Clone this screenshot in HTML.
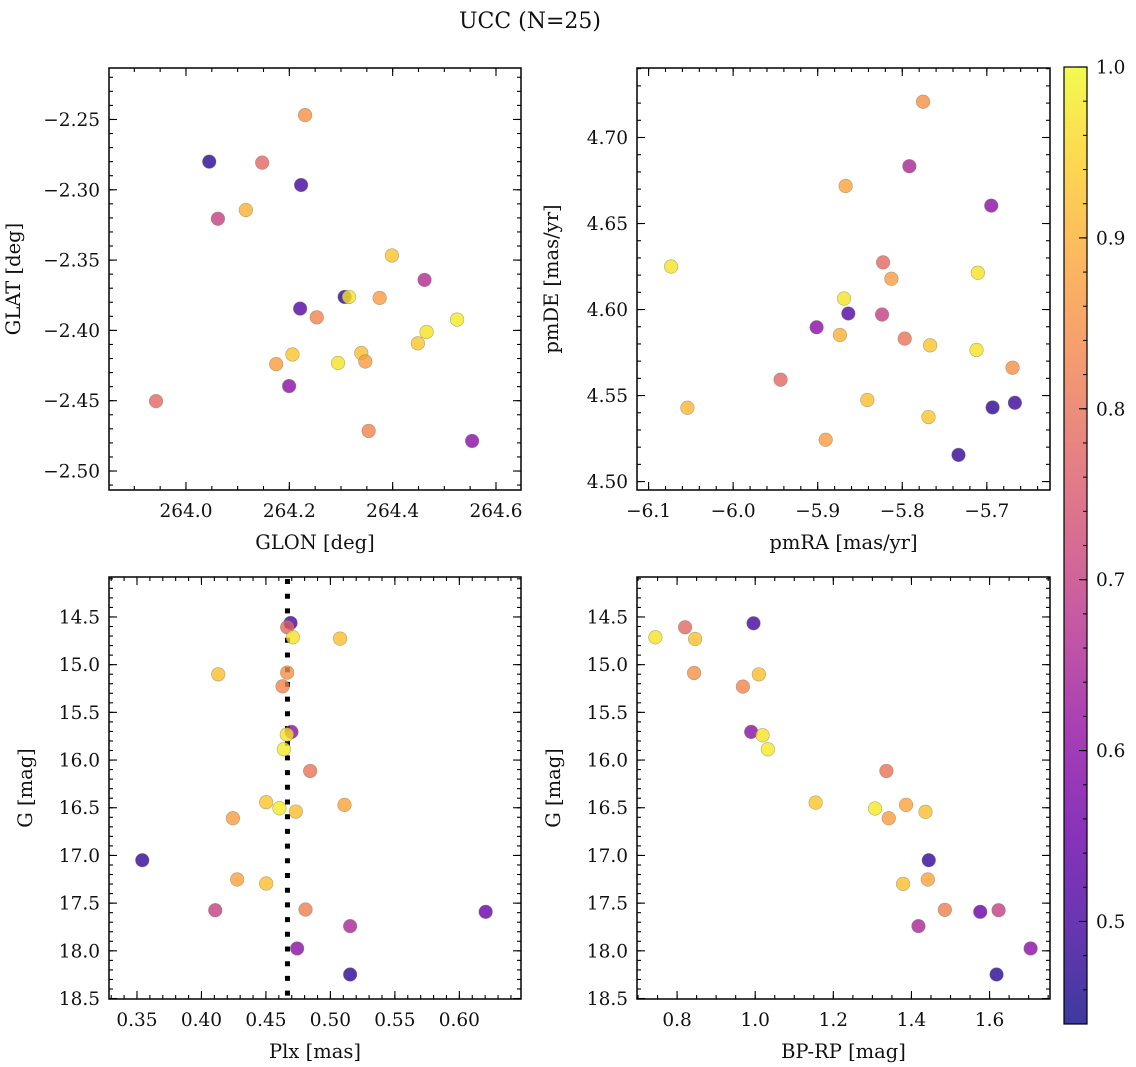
<!DOCTYPE html>
<html><head><meta charset="utf-8"><title>UCC (N=25)</title>
<style>
html,body{margin:0;padding:0;background:#fff;}
svg{display:block;font-family:"DejaVu Serif","Liberation Serif",serif;}
</style></head>
<body>
<svg id="fig" width="1136" height="1067" viewBox="0 0 1136 1067" xmlns="http://www.w3.org/2000/svg">
<rect width="1136" height="1067" fill="#fff"/>
<text x="530" y="28" font-size="22" text-anchor="middle" fill="#111">UCC (N=25)</text>
<defs>
<linearGradient id="plasmaGrad" x1="0" y1="1" x2="0" y2="0">
<stop offset="0" stop-color="#0d0887"/><stop offset="0.1" stop-color="#41049d"/><stop offset="0.2" stop-color="#6a00a8"/><stop offset="0.3" stop-color="#8f0da4"/><stop offset="0.4" stop-color="#b12a90"/><stop offset="0.5" stop-color="#cc4778"/><stop offset="0.6" stop-color="#e16462"/><stop offset="0.7" stop-color="#f2844b"/><stop offset="0.8" stop-color="#fca636"/><stop offset="0.9" stop-color="#fcce25"/><stop offset="1" stop-color="#f0f921"/>
</linearGradient>
</defs>
</svg>
<script>
// ---- Panel 1: GLON vs GLAT ----
const glon = [264.2305,264.045,264.1475,264.2228,264.1159,264.0618,264.3986,264.4617,264.3071,264.3155,264.3748,264.2209,264.2531,264.5248,264.4656,264.4488,264.2061,264.1745,264.2943,264.3393,264.3471,264.1996,263.942,264.3535,264.5538];
const glat = [-2.2469,-2.280,-2.2807,-2.2966,-2.3144,-2.3206,-2.3467,-2.3641,-2.3762,-2.3762,-2.3769,-2.3845,-2.3907,-2.3923,-2.4011,-2.4092,-2.4171,-2.4240,-2.4232,-2.4161,-2.4221,-2.4396,-2.4503,-2.4715,-2.4786];
const probPos = [0.85,0.47,0.78,0.5,0.9,0.7,0.93,0.66,0.47,0.97,0.87,0.52,0.83,0.98,0.97,0.93,0.93,0.87,0.97,0.92,0.87,0.6,0.78,0.83,0.6];
// ---- Panel 2: pmRA vs pmDE ----
const pmra = [-5.7754,-5.7916,-5.8670,-5.6948,-6.0734,-5.8227,-5.8129,-5.7106,-5.8689,-5.8638,-5.8239,-5.9013,-5.8737,-5.7971,-5.7671,-5.7122,-5.6696,-5.9439,-6.0541,-5.8413,-5.6932,-5.6668,-5.7690,-5.8906,-5.7335];
const pmde = [4.7208,4.6833,4.6718,4.6604,4.6250,4.6274,4.6179,4.6214,4.6064,4.5977,4.5971,4.5897,4.5852,4.5831,4.5792,4.5765,4.5662,4.5592,4.5429,4.5474,4.5431,4.5458,4.5375,4.5243,4.5155];
const probPm = [0.85,0.65,0.88,0.6,0.97,0.78,0.87,0.97,0.97,0.52,0.7,0.6,0.9,0.8,0.93,0.97,0.85,0.78,0.91,0.92,0.47,0.49,0.93,0.87,0.48];
// ---- Panel 3: Plx vs G ----
const plx = [0.4691,0.4665,0.4709,0.5075,0.4130,0.4665,0.4629,0.4698,0.4662,0.4639,0.4843,0.4502,0.4605,0.4732,0.5109,0.4244,0.3541,0.4277,0.4502,0.4107,0.4807,0.6204,0.5153,0.4742,0.5153];
const gmagPlx = [14.563,14.608,14.713,14.727,15.101,15.083,15.227,15.705,15.733,15.887,16.114,16.442,16.505,16.540,16.470,16.610,17.050,17.252,17.294,17.574,17.567,17.591,17.741,17.975,18.248];
const probPlx = [0.5,0.78,0.97,0.92,0.92,0.85,0.83,0.6,0.97,0.98,0.8,0.93,0.98,0.92,0.88,0.87,0.48,0.88,0.92,0.7,0.82,0.55,0.65,0.6,0.47];
const plxMedian = [0.4667];
// ---- Panel 4: BP-RP vs G ----
const bprp = [0.7444,0.8205,0.8462,0.9957,0.8436,1.0094,0.9684,0.9897,1.0188,1.0325,1.3359,1.1547,1.3068,1.3419,1.3863,1.4359,1.4444,1.3786,1.4419,1.4855,1.5761,1.6231,1.4179,1.7051,1.6179];
const gmagCmd = [14.713,14.608,14.731,14.566,15.087,15.101,15.230,15.705,15.740,15.887,16.114,16.446,16.508,16.610,16.470,16.543,17.050,17.298,17.252,17.570,17.591,17.574,17.741,17.975,18.248];
const probCmd = [0.97,0.78,0.92,0.5,0.85,0.92,0.83,0.6,0.97,0.98,0.8,0.93,0.98,0.87,0.88,0.92,0.48,0.92,0.88,0.82,0.55,0.7,0.65,0.6,0.47];
// ---- tick labels ----
const ticksGlon = ["264.0","264.2","264.4","264.6"];
const ticksGlat = ["-2.25","-2.30","-2.35","-2.40","-2.45","-2.50"];
const ticksPmra = ["-6.1","-6.0","-5.9","-5.8","-5.7"];
const ticksPmde = ["4.50","4.55","4.60","4.65","4.70"];
const ticksPlx = ["0.35","0.40","0.45","0.50","0.55","0.60"];
const ticksG = ["14.5","15.0","15.5","16.0","16.5","17.0","17.5","18.0","18.5"];
const ticksBprp = ["0.8","1.0","1.2","1.4","1.6"];
const ticksCbar = ["0.5","0.6","0.7","0.8","0.9","1.0"];

const NS = "http://www.w3.org/2000/svg";
const svg = document.getElementById('fig');
const VMIN = 0.44, VMAX = 1.0;
const TFS = 18.5, LFS = 19.5;
const stops = ["#0d0887","#41049d","#6a00a8","#8f0da4","#b12a90","#cc4778","#e16462","#f2844b","#fca636","#fcce25","#f0f921"];
function hex(h){return [parseInt(h.substr(1,2),16),parseInt(h.substr(3,2),16),parseInt(h.substr(5,2),16)];}
function plasma(v){
  let t=(v-VMIN)/(VMAX-VMIN); t=Math.max(0,Math.min(1,t));
  const f=t*10, i=Math.min(9,Math.floor(f)), r=f-i;
  const a=hex(stops[i]), b=hex(stops[i+1]);
  return 'rgb('+a.map((x,k)=>Math.round(x+(b[k]-x)*r)).join(',')+')';
}
function mk(tag, attrs, parent){
  const e=document.createElementNS(NS,tag);
  for(const k in attrs) e.setAttribute(k,attrs[k]);
  (parent||svg).appendChild(e); return e;
}
function fmt(s){return s.replace('-','\u2212');}

function panel(cfg){
  const g=mk('g',{});
  
  
  const L=cfg.x0,R=cfg.x1,T=cfg.y0,B=cfg.y1;
  const sx=v=>L+(v-cfg.xmin)/(cfg.xmax-cfg.xmin)*(R-L);
  const sy=cfg.invert ? (v=>T+(v-cfg.ymin)/(cfg.ymax-cfg.ymin)*(B-T)) : (v=>B-(v-cfg.ymin)/(cfg.ymax-cfg.ymin)*(B-T));
  const cid='clip'+cfg.name;
  const cp=mk('clipPath',{id:cid},g); mk('rect',{x:L,y:T,width:R-L,height:B-T},cp);
  const plot=mk('g',{'clip-path':'url(#'+cid+')'},g);
  if(cfg.vline){
    const vl=mk('line',{x1:sx(cfg.vline[0]),x2:sx(cfg.vline[0]),y1:T+2,y2:B,stroke:'#000','stroke-width':5,'stroke-dasharray':'5 9.7'},plot);
    
    
  }
  for(let i=0;i<cfg.xs.length;i++){
    const c=mk('circle',{cx:sx(cfg.xs[i]),cy:sy(cfg.ys[i]),r:6.8,fill:plasma(cfg.cs[i]),'fill-opacity':0.8,stroke:'#7a7a60','stroke-opacity':0.6,'stroke-width':0.6},plot);
    
    
  }
  const tk=mk('g',{stroke:'#000','stroke-width':1.1},g);
  const eps=1e-9;
  function ticksRange(min,max,step){const a=[];let s=Math.ceil(min/step-eps);for(let k=s;k*step<=max+eps;k++)a.push(k*step);return a;}
  ticksRange(cfg.xmin,cfg.xmax,cfg.xminor).forEach(v=>{const x=sx(v);mk('line',{x1:x,x2:x,y1:B,y2:B-4},tk);mk('line',{x1:x,x2:x,y1:T,y2:T+4},tk);});
  ticksRange(cfg.ymin,cfg.ymax,cfg.yminor).forEach(v=>{const y=sy(v);mk('line',{x1:L,x2:L+4,y1:y,y2:y},tk);mk('line',{x1:R,x2:R-4,y1:y,y2:y},tk);});
  cfg.xticks.forEach(s=>{const v=parseFloat(s),x=sx(v);
    mk('line',{x1:x,x2:x,y1:B,y2:B-8},tk);mk('line',{x1:x,x2:x,y1:T,y2:T+8},tk);
    const t=mk('text',{x:x,y:B+27,'font-size':TFS,'text-anchor':'middle',fill:'#111'},g);t.textContent=fmt(s);
    
    });
  cfg.yticks.forEach(s=>{const v=parseFloat(s),y=sy(v);
    mk('line',{x1:L,x2:L+8,y1:y,y2:y},tk);mk('line',{x1:R,x2:R-8,y1:y,y2:y},tk);
    const t=mk('text',{x:L-9,y:y+6.5,'font-size':TFS,'text-anchor':'end',fill:'#111'},g);t.textContent=fmt(s);
    
    });
  const fr=mk('rect',{x:L,y:T,width:R-L,height:B-T,fill:'none',stroke:'#000','stroke-width':1.5},g);
  
  
  const xl=mk('text',{x:(L+R)/2,y:B+59,'font-size':LFS,'text-anchor':'middle',fill:'#111'},g);xl.textContent=cfg.xlabel;
  
  
  const yx=L-cfg.ylabOff;
  const yl=mk('text',{x:yx,y:(T+B)/2,'font-size':LFS,'text-anchor':'middle',fill:'#111',transform:'rotate(-90 '+yx+' '+((T+B)/2)+')'},g);yl.textContent=cfg.ylabel;
  
  
}

panel({name:'panel-glon-glat',x0:109,x1:521,y0:68,y1:490,xmin:263.851,xmax:264.6484,ymin:-2.5135,ymax:-2.2134,
  xs:glon,ys:glat,cs:probPos,xticks:ticksGlon,yticks:ticksGlat,xminor:0.05,yminor:0.01,xlabel:'GLON [deg]',ylabel:'GLAT [deg]',ylabOff:89});
panel({name:'panel-pm',x0:637,x1:1050,y0:68,y1:490,xmin:-6.1137,xmax:-5.6253,ymin:4.4951,ymax:4.7404,
  xs:pmra,ys:pmde,cs:probPm,xticks:ticksPmra,yticks:ticksPmde,xminor:0.02,yminor:0.01,xlabel:'pmRA [mas/yr]',ylabel:'pmDE [mas/yr]',ylabOff:79});
panel({name:'panel-plx-g',x0:109,x1:521,y0:577,y1:999,xmin:0.3283,xmax:0.6478,ymin:14.081,ymax:18.505,invert:true,
  xs:plx,ys:gmagPlx,cs:probPlx,vline:plxMedian,xticks:ticksPlx,yticks:ticksG,xminor:0.01,yminor:0.1,xlabel:'Plx [mas]',ylabel:'G [mag]',ylabOff:77});
panel({name:'panel-cmd',x0:637,x1:1050,y0:577,y1:999,xmin:0.6974,xmax:1.7547,ymin:14.081,ymax:18.505,invert:true,
  xs:bprp,ys:gmagCmd,cs:probCmd,xticks:ticksBprp,yticks:ticksG,xminor:0.05,yminor:0.1,xlabel:'BP-RP [mag]',ylabel:'G [mag]',ylabOff:77});

(function(){
  const L=1064,R=1087,T=67,B=1024;
  const g=mk('g',{});
  
  
  mk('rect',{x:L,y:T,width:R-L,height:B-T,fill:'url(#plasmaGrad)','fill-opacity':0.8},g);
  mk('rect',{x:L,y:T,width:R-L,height:B-T,fill:'none',stroke:'#000','stroke-width':1.2},g);
  const sy=v=>B-(v-VMIN)/(VMAX-VMIN)*(B-T);
  for(let k=Math.ceil(VMIN/0.02-1e-9);k*0.02<=VMAX+1e-9;k++){const y=sy(k*0.02);mk('line',{x1:R,x2:R-4,y1:y,y2:y,stroke:'#000','stroke-width':1},g);}
  ticksCbar.forEach(s=>{const y=sy(parseFloat(s));mk('line',{x1:R,x2:R-8,y1:y,y2:y,stroke:'#000','stroke-width':1.1},g);
    const t=mk('text',{x:R+9,y:y+6.5,'font-size':TFS,fill:'#111'},g);t.textContent=s;
    
    });
})();
</script>
</body></html>
